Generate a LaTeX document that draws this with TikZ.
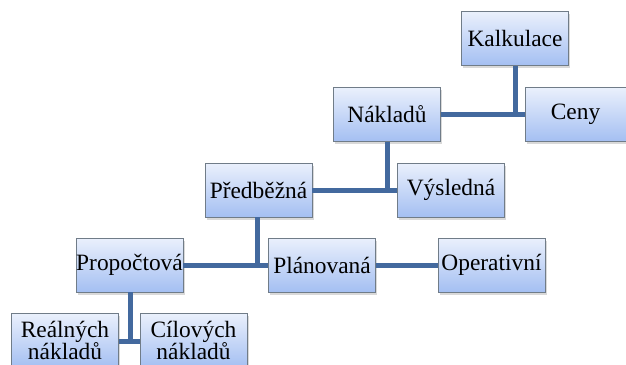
\documentclass[tikz,border=0pt]{standalone}
\usepackage{fontspec}
\setmainfont{Liberation Serif}
\usetikzlibrary{shadows}
\definecolor{linkblue}{HTML}{43699E}
\definecolor{boxtop}{HTML}{EAF0FC}
\definecolor{boxbot}{HTML}{A4BFF2}
\definecolor{boxedge}{HTML}{707C88}
\tikzset{
  box/.style={draw=boxedge, line width=0.8pt, top color=boxtop, bottom color=boxbot,
    minimum width=107pt, minimum height=54pt, inner sep=0pt, align=center,
    font=\rmfamily\fontsize{23.4}{22.5}\selectfont,
    drop shadow={opacity=0.3, shadow xshift=1.5pt, shadow yshift=-2.5pt}},
  link/.style={draw=linkblue, line width=5pt}
}
\begin{document}
\begin{tikzpicture}[x=1pt,y=-1pt]
\useasboundingbox (0,0) rectangle (626,364);
\coordinate (j1) at (515,114.5);
\coordinate (j2) at (387,190);
\coordinate (j3) at (257,265);
\coordinate (j4) at (130,341);
\node[box] (kal) at (515,38.5) {Kalkulace};
\node[box, minimum width=101pt] (cen) at (575.5,114.5) {Ceny};
\node[box] (nak) at (387,114.5) {Nákladů};
\node[box] (pre) at (258.5,190) {Předběžná};
\node[box] (vys) at (451,190) {Výsledná};
\node[box] (pro) at (129.5,265) {Propočtová};
\node[box] (pla) at (322,265) {Plánovaná};
\node[box] (ope) at (491.5,265) {Operativní};
\node[box] (rea) at (65,340.5) {Reálných\\nákladů};
\node[box] (cil) at (193.5,340.5) {Cílových\\nákladů};
\draw[link] (kal.south) -- (j1);
\draw[link] (nak.east) -- (cen.west);
\draw[link] (nak.south) -- (j2);
\draw[link] (pre.east) -- (vys.west);
\draw[link] (pre.south -| j3) -- (j3);
\draw[link] (pro.east) -- (pla.west);
\draw[link] (pla.east) -- (ope.west);
\draw[link] (pro.south -| j4) -- (j4);
\draw[link] (rea.east |- j4) -- (cil.west |- j4);
\end{tikzpicture}
\end{document}
